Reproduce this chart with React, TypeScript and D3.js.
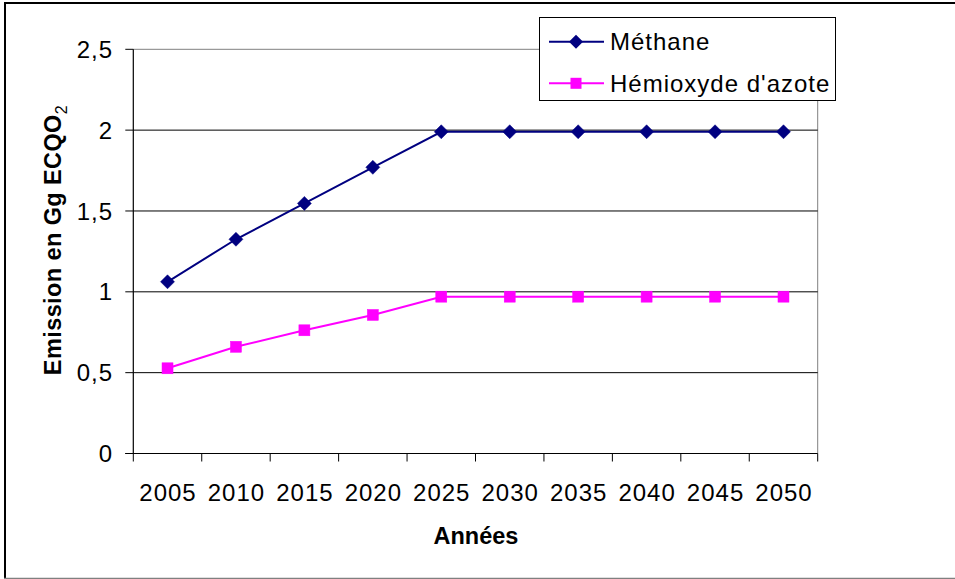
import React from "react";
import * as d3 from "d3";

const years = ["2005", "2010", "2015", "2020", "2025", "2030", "2035", "2040", "2045", "2050"];
const methane = [1.062, 1.325, 1.547, 1.77, 1.99, 1.99, 1.99, 1.99, 1.99, 1.99];
const n2o = [0.527, 0.66, 0.762, 0.857, 0.97, 0.97, 0.97, 0.97, 0.97, 0.97];
const yTicks = [0, 0.5, 1, 1.5, 2, 2.5];
const yTickLabels = ["0", "0,5", "1", "1,5", "2", "2,5"];
const seriesNames = ["Méthane", "Hémioxyde d'azote"];

const W = 955;
const H = 579;
const FONT = "'Liberation Sans', Arial, sans-serif";

export default function App() {
  const left = 133.3;
  const right = 817.7;
  const top = 49.3;
  const bottom = 453.5;
  const x = d3.scaleBand<string>().domain(years).range([left, right]).padding(0);
  const y = d3.scaleLinear().domain([0, 2.5]).range([bottom, top]);
  const cx = (d: string) => (x(d) as number) + x.bandwidth() / 2;

  const line = d3
    .line<number>()
    .x((_, i) => cx(years[i]))
    .y((v) => y(v));

  const diamond = (px: number, py: number, r: number) =>
    `M${px},${py - r}L${px + r},${py}L${px},${py + r}L${px - r},${py}Z`;

  const blue = "#000080";
  const magenta = "#FF00FF";

  const boundaries = years.map((d) => x(d) as number).concat([right]);
  const LS = 1;

  return (
    <svg
      width={W}
      height={H}
      style={{ position: "absolute", left: 0, top: 0, background: "#fff" }}
      fontFamily={FONT}
    >
      <rect x={0} y={0} width={W} height={H} fill="#fff" />
      {/* outer frame */}
      <line x1={4} y1={3} x2={W} y2={3} stroke="#000" strokeWidth={2} />
      <line x1={5} y1={2} x2={5} y2={578} stroke="#000" strokeWidth={2} />
      <line x1={4} y1={578.5} x2={W} y2={578.5} stroke="#808080" strokeWidth={1.5} />

      {/* plot border top/right */}
      <line x1={left} y1={y(2.5)} x2={right} y2={y(2.5)} stroke="#808080" strokeWidth={1} />
      <line x1={right} y1={top} x2={right} y2={bottom} stroke="#808080" strokeWidth={1} />

      {/* gridlines */}
      {yTicks
        .filter((t) => t > 0 && t < 2.5)
        .map((t) => (
          <line key={t} x1={left} y1={y(t)} x2={right} y2={y(t)} stroke="#000" strokeWidth={1} />
        ))}

      {/* axes */}
      <line x1={left} y1={top} x2={left} y2={bottom} stroke="#000" strokeWidth={1.2} />
      <line x1={left - 8} y1={bottom} x2={right} y2={bottom} stroke="#000" strokeWidth={1.2} />
      {yTicks.map((t) => (
        <line key={"yt" + t} x1={left - 8} y1={y(t)} x2={left} y2={y(t)} stroke="#000" strokeWidth={1} />
      ))}
      {boundaries.map((b, i) => (
        <line key={"xt" + i} x1={b} y1={bottom} x2={b} y2={bottom + 8} stroke="#000" strokeWidth={1} />
      ))}

      {/* y tick labels */}
      {yTicks.map((t, i) => (
        <text
          key={"yl" + t}
          x={112 + LS}
          y={y(t)}
          dy="0.36em"
          textAnchor="end"
          fontSize={24}
          letterSpacing={LS}
          fill="#000"
        >
          {yTickLabels[i]}
        </text>
      ))}
      {/* x tick labels */}
      {years.map((d) => (
        <text
          key={"xl" + d}
          x={cx(d) + LS / 2}
          y={500.5}
          textAnchor="middle"
          fontSize={24}
          letterSpacing={LS}
          fill="#000"
        >
          {d}
        </text>
      ))}

      {/* axis titles */}
      <text x={476} y={544} textAnchor="middle" fontSize={23.5} fontWeight="bold" fill="#000">
        Années
      </text>
      <text
        transform="translate(61,240) rotate(-90)"
        textAnchor="middle"
        fontSize={23.5}
        fontWeight="bold"
        letterSpacing={0.4}
        fill="#000"
      >
        Emission en Gg ECQO
        <tspan fontSize={16} fontWeight="normal" dy={6}>
          2
        </tspan>
      </text>

      {/* series */}
      <path d={line(methane) || ""} fill="none" stroke={blue} strokeWidth={2} />
      <path d={line(n2o) || ""} fill="none" stroke={magenta} strokeWidth={2} />
      {methane.map((v, i) => (
        <path key={"m" + i} d={diamond(cx(years[i]), y(v), 7)} fill={blue} stroke={blue} strokeWidth={0.5} />
      ))}
      {n2o.map((v, i) => (
        <rect
          key={"n" + i}
          x={cx(years[i]) - 5.5}
          y={y(v) - 5.5}
          width={11}
          height={11}
          fill={magenta}
          stroke={magenta}
          strokeWidth={0.5}
        />
      ))}

      {/* legend */}
      <rect x={539.5} y={17.5} width={296} height={83} fill="#fff" stroke="#000" strokeWidth={1} />
      <line x1={549} y1={41.7} x2={604} y2={41.7} stroke={blue} strokeWidth={2} />
      <path d={diamond(576, 41.7, 7)} fill={blue} />
      <text x={610} y={41.7} dy="0.36em" fontSize={24} letterSpacing={LS} fill="#000">
        {seriesNames[0]}
      </text>
      <line x1={549} y1={83.3} x2={604} y2={83.3} stroke={magenta} strokeWidth={2} />
      <rect x={570.5} y={77.8} width={11} height={11} fill={magenta} />
      <text x={610} y={83.3} dy="0.36em" fontSize={24} letterSpacing={LS} fill="#000">
        {seriesNames[1]}
      </text>
    </svg>
  );
}
